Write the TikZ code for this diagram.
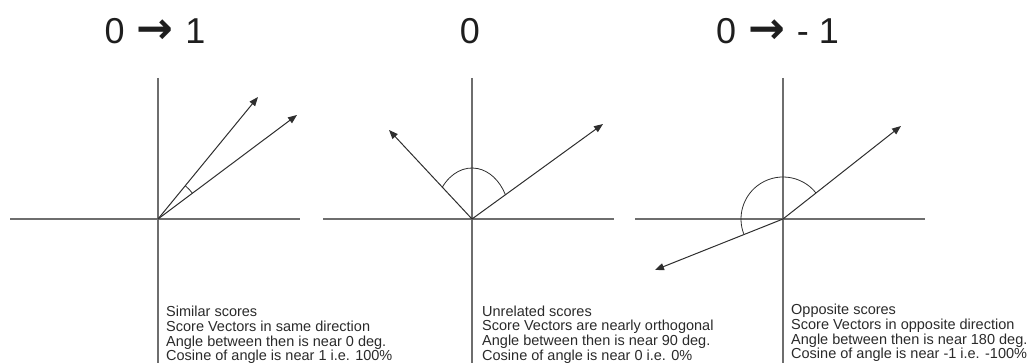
\documentclass[tikz,border=0pt]{standalone}
\usepackage{fontspec}
\setmainfont{Liberation Sans}
\newfontfamily\titlefont{Liberation Sans}
\newfontfamily\arrowfont{DejaVu Sans}
\usetikzlibrary{arrows.meta}
\definecolor{axisgray}{HTML}{6E6E6E}
\definecolor{vecgray}{HTML}{2E2E2E}
\definecolor{textgray}{HTML}{2A2A2A}
\definecolor{titlegray}{HTML}{1E1E1E}
\newcommand{\ttarrow}{{\arrowfont\bfseries\fontsize{44}{44}\selectfont →}}
\begin{document}
\begin{tikzpicture}[x=1pt,y=1pt,
  axis/.style={draw=axisgray,line width=1.3pt},
  vec/.style={draw=vecgray,line width=1pt,-{Triangle[length=9pt,width=7pt]}},
  anglemark/.style={draw=vecgray,line width=0.8pt},
  title/.style={font=\titlefont\fontsize{36}{40}\selectfont,text=titlegray,inner sep=0pt},
  caption/.style={font=\fontsize{14.5}{14.7}\selectfont,text=textgray,align=left,anchor=north west,inner sep=0pt}]
\useasboundingbox (0,0) rectangle (1034,363);

% ---------- panel 1 ----------
\coordinate (O1) at (158,144);
\coordinate (v1t) at (158,285);
\coordinate (v1b) at (158,0);
\coordinate (h1l) at (10,144);
\coordinate (h1r) at (300,144);
\coordinate (t1a) at (258,266);
\coordinate (t1b) at (297,248);
\draw[axis] (v1t) -- (v1b);
\draw[axis] (h1l) -- (h1r);
\draw[vec] (O1) -- (t1a);
\draw[vec] (O1) -- (t1b);
\draw[anglemark] (O1) ++(36.8:43) arc[start angle=36.8,end angle=50.7,radius=43];
\node[title] (title1) at (155,332) {0\hspace{12pt}\ttarrow\hspace{12pt}1};
\node[caption] (cap1) at (166,57) {Similar scores\\Score Vectors in same direction\\Angle between then is near 0 deg.\\Cosine of angle is near 1 i.e. 100\%};

% ---------- panel 2 ----------
\coordinate (O2) at (472,144);
\coordinate (v2t) at (472,285);
\coordinate (v2b) at (472,0);
\coordinate (h2l) at (323,144);
\coordinate (h2r) at (614,144);
\coordinate (t2a) at (389,233);
\coordinate (t2b) at (603,239);
\draw[axis] (v2t) -- (v2b);
\draw[axis] (h2l) -- (h2r);
\draw[vec] (O2) -- (t2a);
\draw[vec] (O2) -- (t2b);
\draw[anglemark] (O2) ++(141.4:38 and 51) arc[start angle=141.4,end angle=28.4,x radius=38,y radius=51];
\node[title] (title2) at (470,332) {0};
\node[caption] (cap2) at (482,57.5) {Unrelated scores\\Score Vectors are nearly orthogonal\\Angle between then is near 90 deg.\\Cosine of angle is near 0 i.e. 0\%};

% ---------- panel 3 ----------
\coordinate (O3) at (783,144);
\coordinate (v3t) at (783,285);
\coordinate (v3b) at (783,0);
\coordinate (h3l) at (635,144);
\coordinate (h3r) at (925,144);
\coordinate (t3a) at (901,237);
\coordinate (t3b) at (655,93);
\draw[axis] (v3t) -- (v3b);
\draw[axis] (h3l) -- (h3r);
\draw[vec] (O3) -- (t3a);
\draw[vec] (O3) -- (t3b);
\draw[anglemark] (O3) ++(38.2:42) arc[start angle=38.2,end angle=200.5,radius=42];
\node[title] (title3) at (777.5,332) {0\hspace{12pt}\ttarrow\hspace{12pt}-\hspace{10pt}1};
\node[caption] (cap3) at (791,59) {Opposite scores\\Score Vectors in opposite direction\\Angle between then is near 180 deg.\\Cosine of angle is near -1 i.e. -100\%};
\end{tikzpicture}
\end{document}
